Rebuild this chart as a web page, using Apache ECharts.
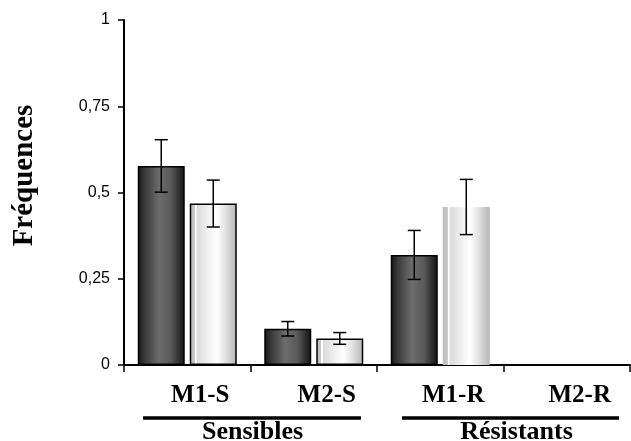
<!DOCTYPE html>
<html><head><meta charset="utf-8">
<script src="https://cdn.jsdelivr.net/npm/echarts@6/dist/echarts.min.js"></script>
<style>html,body{margin:0;padding:0;background:#fff}#c{width:631px;height:441px}</style>
</head><body><div id="c"></div>
<script>
const categories = ['M1-S', 'M2-S', 'M1-R', 'M2-R'];
const groups = ['Sensibles', 'Résistants'];
const darkValues = [0.577, 0.105, 0.319, 0];
const darkErrors = [0.076, 0.021, 0.071, 0];
const lightValues = [0.468, 0.077, 0.458, 0];
const lightErrors = [0.068, 0.017, 0.080, 0];
const yTicks = [0, 0.25, 0.5, 0.75, 1];
const yTickLabels = ['0', '0,25', '0,5', '0,75', '1'];

const darkGrad = new echarts.graphic.LinearGradient(0, 0, 1, 0, [
  {offset: 0, color: '#161616'}, {offset: 0.15, color: '#3a3a3a'},
  {offset: 0.45, color: '#6c6c6c'}, {offset: 0.7, color: '#5a5a5a'},
  {offset: 0.9, color: '#2a2a2a'}, {offset: 1, color: '#141414'}]);
const lightGrad = new echarts.graphic.LinearGradient(0, 0, 1, 0, [
  {offset: 0, color: '#bcbcbc'}, {offset: 0.1, color: '#c6c6c6'},
  {offset: 0.11, color: '#ffffff'}, {offset: 0.14, color: '#ffffff'},
  {offset: 0.15, color: '#dadada'}, {offset: 0.35, color: '#ececec'},
  {offset: 0.58, color: '#ffffff'}, {offset: 0.8, color: '#dcdcdc'},
  {offset: 1, color: '#b4b4b4'}]);

const BW = 47, GAP = 5;
function errSeries(vals, errs, side) {
  return {
    type: 'custom', z: 5,
    data: vals.map((v, i) => [i, v, errs[i]]),
    renderItem: function (params, api) {
      const e = api.value(2);
      if (!e) return null;
      const c = api.coord([api.value(0), api.value(1)]);
      const x = c[0] + side * (BW + GAP) / 2;
      const top = api.coord([api.value(0), api.value(1) + e])[1];
      const bot = api.coord([api.value(0), api.value(1) - e])[1];
      const st = {stroke: '#000', lineWidth: 1.5};
      return {type: 'group', children: [
        {type: 'line', shape: {x1: x, y1: top, x2: x, y2: bot}, style: st},
        {type: 'line', shape: {x1: x - 6.5, y1: top, x2: x + 6.5, y2: top}, style: st},
        {type: 'line', shape: {x1: x - 6.5, y1: bot, x2: x + 6.5, y2: bot}, style: st}
      ]};
    }
  };
}

const chart = echarts.init(document.getElementById('c'), null, {renderer: 'canvas'});
chart.setOption({
  animation: false,
  grid: {left: 124, right: 1, top: 20, bottom: 76, containLabel: false, outerBoundsMode: 'none'},
  xAxis: [{
    type: 'category', data: categories,
    axisLine: {lineStyle: {color: '#000', width: 2}},
    axisTick: {show: true, length: 7, lineStyle: {color: '#000', width: 1.5}},
    axisLabel: {color: '#000', fontFamily: 'Liberation Serif', fontWeight: 'bold', fontSize: 25, margin: 18,
      padding: [0, 0, 0, 26]}
  }, {
    type: 'category',
    data: [groups[0], {value: groups[1], textStyle: {padding: [0, 0, 0, 26]}}],
    position: 'bottom', offset: 51,
    axisLine: {show: false}, axisTick: {show: false},
    axisLabel: {color: '#000', fontFamily: 'Liberation Serif', fontWeight: 'bold', fontSize: 26, margin: 3,
      padding: [0, 0, 0, 4]}
  }],
  yAxis: {
    type: 'value', min: 0, max: 1, interval: 0.25,
    axisLine: {show: true, lineStyle: {color: '#000', width: 2}},
    axisTick: {show: true, length: 6, lineStyle: {color: '#000', width: 1.5}},
    splitLine: {show: false},
    axisLabel: {color: '#000', fontFamily: 'Liberation Sans', fontSize: 16, margin: 14,
      formatter: v => yTickLabels[yTicks.indexOf(v)] ?? ''},
    name: 'Fréquences', nameLocation: 'middle', nameGap: 85, nameRotate: 90,
    nameTextStyle: {color: '#000', fontFamily: 'Liberation Serif', fontWeight: 'bold', fontSize: 29,
      padding: [0, 0, 0, 34]}
  },
  series: [
    {type: 'bar', data: darkValues, barWidth: BW, barGap: (GAP / BW * 100) + '%',
      itemStyle: {color: darkGrad, borderColor: '#000', borderWidth: 1.5}},
    {type: 'bar', data: lightValues.map((v, i) => i === 2 ? {value: v, itemStyle: {borderWidth: 0}} : v),
      barWidth: BW,
      itemStyle: {color: lightGrad, borderColor: '#000', borderWidth: 1.5}},
    errSeries(darkValues, darkErrors, -1),
    errSeries(lightValues, lightErrors, 1)
  ],
  graphic: [
    {type: 'line', shape: {x1: 143, y1: 418, x2: 361, y2: 418}, style: {stroke: '#000', lineWidth: 3.5}},
    {type: 'line', shape: {x1: 402, y1: 418, x2: 619, y2: 418}, style: {stroke: '#000', lineWidth: 3.5}}
  ]
});
</script></body></html>
